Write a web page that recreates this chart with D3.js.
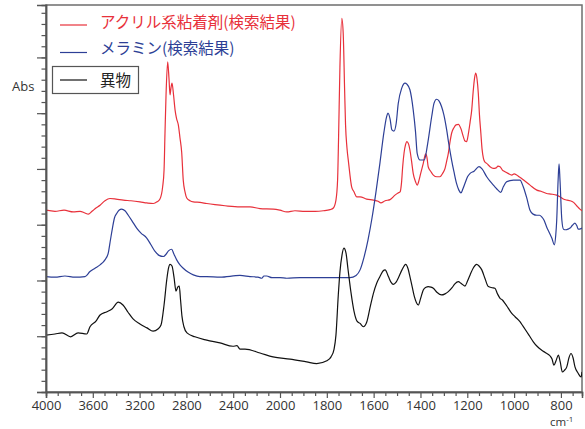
<!DOCTYPE html>
<html>
<head>
<meta charset="utf-8">
<script src="https://cdn.jsdelivr.net/npm/d3@7"></script>
<style>
  html, body { margin: 0; padding: 0; background: #fff; }
  svg { display: block; }
  .tick text { font-family: 'Open Sans', 'Noto Sans', sans-serif; font-size: 13px; fill: #333; }
  .legend text { font-family: 'Noto Sans CJK JP', sans-serif; font-size: 15.5px; }
</style>
</head>
<body>
<svg id="chart"></svg>
<script>
// wavenumber (cm-1), absorbance (offset stacked)
const foreign = [
  [4000, 0.102], [3923, 0.104], [3863, 0.106], [3789, 0.099], [3726, 0.106], [3652, 0.104],
  [3624, 0.117], [3573, 0.127], [3538, 0.138], [3479, 0.144], [3436, 0.149], [3382, 0.161],
  [3342, 0.156], [3299, 0.143], [3256, 0.131], [3197, 0.122], [3137, 0.115], [3085, 0.109],
  [3043, 0.113], [3017, 0.120], [2991, 0.156], [2968, 0.201], [2953, 0.222], [2940, 0.229],
  [2923, 0.226], [2906, 0.206], [2889, 0.181], [2874, 0.188], [2861, 0.190], [2850, 0.165],
  [2838, 0.136], [2821, 0.117], [2795, 0.106], [2727, 0.099], [2626, 0.093], [2513, 0.088],
  [2402, 0.082], [2368, 0.083], [2342, 0.077], [2299, 0.077], [2171, 0.070], [2060, 0.063],
  [1957, 0.059], [1886, 0.054], [1843, 0.051], [1800, 0.056], [1782, 0.063], [1769, 0.077],
  [1761, 0.102], [1751, 0.174], [1744, 0.215], [1735, 0.246], [1727, 0.258], [1718, 0.249],
  [1710, 0.222], [1697, 0.179], [1684, 0.145], [1671, 0.127], [1658, 0.123], [1644, 0.117],
  [1629, 0.126], [1615, 0.152], [1601, 0.177], [1587, 0.195], [1573, 0.207], [1560, 0.217],
  [1551, 0.219], [1537, 0.207], [1526, 0.197], [1516, 0.193], [1504, 0.197], [1495, 0.204],
  [1479, 0.219], [1463, 0.229], [1453, 0.221], [1445, 0.207], [1436, 0.190], [1426, 0.171],
  [1417, 0.160], [1409, 0.156], [1400, 0.167], [1388, 0.183], [1376, 0.188], [1367, 0.189],
  [1355, 0.188], [1345, 0.186], [1330, 0.179], [1310, 0.174], [1295, 0.176], [1281, 0.180],
  [1265, 0.187], [1253, 0.194], [1238, 0.198], [1227, 0.195], [1210, 0.190], [1199, 0.199],
  [1188, 0.210], [1175, 0.222], [1160, 0.229], [1150, 0.226], [1138, 0.219], [1124, 0.203],
  [1110, 0.189], [1094, 0.187], [1082, 0.186], [1071, 0.176], [1060, 0.168], [1050, 0.165],
  [1039, 0.159], [1026, 0.151], [1010, 0.141], [996, 0.135], [975, 0.126], [962, 0.118],
  [946, 0.108], [932, 0.099], [918, 0.090], [902, 0.082], [882, 0.075], [864, 0.070],
  [847, 0.065], [838, 0.059], [830, 0.048], [821, 0.056], [811, 0.066], [803, 0.054],
  [794, 0.036], [785, 0.039], [775, 0.045], [766, 0.061], [757, 0.069], [748, 0.061],
  [740, 0.045], [727, 0.034], [714, 0.027], [710, 0.036]
];

const melamine = [
  [4000, 0.207], [3923, 0.206], [3838, 0.208], [3752, 0.206], [3667, 0.207], [3624, 0.216],
  [3581, 0.222], [3538, 0.228], [3496, 0.237], [3468, 0.249], [3449, 0.273], [3432, 0.294],
  [3415, 0.312], [3396, 0.320], [3376, 0.326], [3353, 0.328], [3325, 0.325], [3297, 0.317],
  [3265, 0.307], [3225, 0.294], [3188, 0.285], [3139, 0.276], [3103, 0.264], [3068, 0.252],
  [3034, 0.245], [2997, 0.243], [2974, 0.247], [2953, 0.253], [2926, 0.256], [2906, 0.247],
  [2883, 0.237], [2855, 0.228], [2827, 0.222], [2786, 0.215], [2741, 0.210], [2684, 0.207],
  [2626, 0.207], [2513, 0.206], [2342, 0.209], [2256, 0.207], [2188, 0.206], [2156, 0.204],
  [2137, 0.208], [2114, 0.208], [2068, 0.205], [2000, 0.205], [1971, 0.204], [1915, 0.205],
  [1829, 0.205], [1744, 0.205], [1701, 0.205], [1675, 0.209], [1658, 0.219], [1641, 0.242],
  [1624, 0.273], [1607, 0.312], [1590, 0.359], [1573, 0.411], [1556, 0.466], [1545, 0.493],
  [1539, 0.500], [1530, 0.490], [1522, 0.470], [1513, 0.468], [1504, 0.481], [1495, 0.517],
  [1480, 0.545], [1466, 0.554], [1458, 0.552], [1445, 0.542], [1431, 0.506], [1421, 0.466],
  [1414, 0.428], [1402, 0.416], [1384, 0.416], [1369, 0.446], [1352, 0.494], [1342, 0.518],
  [1331, 0.525], [1321, 0.522], [1310, 0.512], [1300, 0.497], [1288, 0.470], [1279, 0.445],
  [1267, 0.416], [1257, 0.395], [1246, 0.374], [1236, 0.362], [1227, 0.357], [1219, 0.364],
  [1210, 0.374], [1199, 0.386], [1188, 0.392], [1171, 0.396], [1150, 0.404], [1137, 0.400],
  [1117, 0.386], [1103, 0.378], [1082, 0.368], [1069, 0.362], [1057, 0.358], [1046, 0.368],
  [1032, 0.377], [1018, 0.379], [1003, 0.380], [975, 0.380], [961, 0.368], [946, 0.348],
  [932, 0.326], [919, 0.319], [903, 0.317], [891, 0.317], [882, 0.314], [872, 0.308],
  [861, 0.296], [851, 0.287], [839, 0.276], [828, 0.264], [822, 0.282], [818, 0.308],
  [812, 0.380], [808, 0.409], [804, 0.380], [796, 0.308], [789, 0.292], [779, 0.291],
  [770, 0.292], [761, 0.294], [751, 0.299], [740, 0.303], [732, 0.298], [726, 0.292],
  [714, 0.293], [710, 0.294]
];

const acrylic = [
  [4000, 0.326], [3923, 0.324], [3846, 0.326], [3767, 0.323], [3709, 0.324], [3667, 0.321],
  [3638, 0.319], [3607, 0.324], [3573, 0.330], [3538, 0.335], [3496, 0.343], [3453, 0.347],
  [3402, 0.346], [3339, 0.344], [3274, 0.343], [3197, 0.341], [3137, 0.339], [3083, 0.338],
  [3051, 0.341], [3026, 0.346], [3003, 0.368], [2991, 0.398], [2983, 0.464], [2974, 0.533],
  [2960, 0.592], [2949, 0.563], [2940, 0.533], [2932, 0.545], [2923, 0.554], [2910, 0.533],
  [2897, 0.506], [2885, 0.491], [2869, 0.479], [2855, 0.456], [2840, 0.429], [2827, 0.380],
  [2812, 0.359], [2797, 0.348], [2769, 0.343], [2741, 0.341], [2684, 0.340], [2626, 0.338],
  [2556, 0.336], [2470, 0.334], [2342, 0.332], [2256, 0.332], [2171, 0.329], [2057, 0.328],
  [2000, 0.326], [1971, 0.323], [1936, 0.325], [1893, 0.324], [1850, 0.324], [1815, 0.325],
  [1786, 0.327], [1772, 0.330], [1761, 0.344], [1754, 0.380], [1750, 0.452], [1744, 0.583],
  [1736, 0.670], [1730, 0.643], [1724, 0.542], [1720, 0.479], [1714, 0.438], [1707, 0.411],
  [1694, 0.368], [1684, 0.359], [1672, 0.350], [1658, 0.350], [1630, 0.346], [1601, 0.344],
  [1581, 0.342], [1569, 0.339], [1551, 0.343], [1530, 0.345], [1509, 0.353], [1496, 0.357],
  [1487, 0.359], [1481, 0.375], [1476, 0.404], [1470, 0.429], [1464, 0.443], [1458, 0.449],
  [1451, 0.445], [1445, 0.434], [1438, 0.414], [1431, 0.392], [1421, 0.377], [1414, 0.371],
  [1406, 0.380], [1399, 0.392], [1388, 0.410], [1378, 0.427], [1372, 0.420], [1367, 0.404],
  [1355, 0.395], [1345, 0.389], [1330, 0.386], [1317, 0.386], [1304, 0.393], [1295, 0.401],
  [1288, 0.414], [1281, 0.428], [1274, 0.448], [1267, 0.464], [1257, 0.474], [1248, 0.479],
  [1238, 0.480], [1227, 0.472], [1217, 0.458], [1210, 0.450], [1203, 0.449], [1195, 0.464],
  [1188, 0.484], [1181, 0.506], [1175, 0.538], [1169, 0.563], [1164, 0.572], [1158, 0.560],
  [1153, 0.536], [1148, 0.497], [1142, 0.464], [1137, 0.436], [1131, 0.419], [1124, 0.412],
  [1117, 0.410], [1103, 0.404], [1089, 0.401], [1077, 0.402], [1069, 0.405], [1060, 0.404],
  [1050, 0.398], [1039, 0.395], [1026, 0.392], [1010, 0.389], [1000, 0.391], [989, 0.389],
  [979, 0.386], [968, 0.383], [953, 0.378], [932, 0.371], [903, 0.362], [885, 0.360],
  [861, 0.356], [843, 0.355], [818, 0.353], [804, 0.350], [790, 0.346], [774, 0.344],
  [761, 0.343], [746, 0.340], [733, 0.334], [719, 0.328], [710, 0.325]
];

const xMajorTicks = [4000, 3600, 3200, 2800, 2400, 2000, 1800, 1600, 1400, 1200, 1000, 800];
const seriesNames = ['アクリル系粘着剤(検索結果)', 'メラミン(検索結果)', '異物'];
const seriesColors = ['#e8313b', '#2d3f96', '#111111'];

const width = 585;
const height = 429;
const plot = { left: 46, right: 582, top: 5, bottom: 392 };

const svg = d3.select('#chart').attr('width', width).attr('height', height);

// x axis is split: 400 cm-1 per division above 2000, 200 below
const x = d3.scaleLinear()
  .domain([4000, 2000, 710])
  .range([plot.left, 280, plot.right]);

const y = d3.scaleLinear()
  .domain([0, 0.694])
  .range([plot.bottom, plot.top]);

const xMinorTicks = d3.range(4000, 2000, -100).concat(d3.range(2000, 705, -50))
  .filter((d) => xMajorTicks.indexOf(d) < 0);

svg.append('defs').append('clipPath').attr('id', 'clip')
  .append('rect')
  .attr('x', plot.left).attr('y', plot.top)
  .attr('width', plot.right - plot.left).attr('height', plot.bottom - plot.top);

// frame
svg.append('rect')
  .attr('x', plot.left).attr('y', plot.top)
  .attr('width', plot.right - plot.left).attr('height', plot.bottom - plot.top)
  .attr('fill', 'none').attr('stroke', '#6e6e6e').attr('stroke-width', 1.5);

const line = d3.line().x((d) => x(d[0])).y((d) => y(d[1])).curve(d3.curveMonotoneX);

const lines = svg.append('g').attr('clip-path', 'url(#clip)');
[acrylic, melamine, foreign].forEach((data, i) => {
  lines.append('path')
    .datum(data.slice().reverse())
    .attr('fill', 'none')
    .attr('stroke', seriesColors[i])
    .attr('stroke-width', 1.2)
    .attr('stroke-linejoin', 'round')
    .attr('d', line);
});

// axes
svg.append('g')
  .attr('transform', `translate(0,${plot.bottom})`)
  .call(d3.axisBottom(x).tickValues(xMajorTicks).tickSize(6).tickPadding(3).tickFormat(d3.format('d')));
svg.append('g')
  .attr('transform', `translate(0,${plot.bottom})`)
  .call(d3.axisBottom(x).tickValues(xMinorTicks).tickSize(4).tickFormat(''));

svg.append('g')
  .attr('transform', `translate(${plot.left},0)`)
  .call(d3.axisLeft(y).tickValues(d3.range(0, 0.65, 0.1)).tickSize(9).tickFormat(''));
svg.append('g')
  .attr('transform', `translate(${plot.left},0)`)
  .call(d3.axisLeft(y).tickValues(d3.range(0.02, 0.694, 0.02)).tickSize(4.5).tickFormat(''));

svg.selectAll('.domain').attr('stroke', '#555').attr('stroke-width', 1.5);
svg.selectAll('.tick line').attr('stroke', '#555').attr('stroke-width', 1.2);

svg.append('text')
  .attr('x', 12).attr('y', 91)
  .style('font-family', "'Open Sans', 'Noto Sans', sans-serif")
  .style('font-size', '13px').attr('fill', '#333')
  .text('Abs');

const unit = svg.append('text')
  .attr('x', 550).attr('y', 426)
  .style('font-family', "'Open Sans', 'Noto Sans', sans-serif")
  .style('font-size', '11.5px').attr('fill', '#333');
unit.append('tspan').text('cm');
unit.append('tspan').attr('dy', -4).style('font-size', '8px').text('-1');

// legend
const legend = svg.append('g').attr('class', 'legend');
legend.append('rect')
  .attr('x', 52.5).attr('y', 66.5).attr('width', 86).attr('height', 27)
  .attr('fill', '#fff').attr('stroke', '#555').attr('stroke-width', 1.2);

const legendRows = [
  { ly: 25, ty: 22 },
  { ly: 52.5, ty: 48 },
  { ly: 80, ty: 80 }
];
legendRows.forEach((r, i) => {
  legend.append('line')
    .attr('x1', 60).attr('x2', 87).attr('y1', r.ly).attr('y2', r.ly)
    .attr('stroke', seriesColors[i]).attr('stroke-width', 1.2);
  legend.append('text')
    .attr('x', 100).attr('y', r.ty).attr('dy', '0.36em')
    .attr('fill', i === 2 ? '#222' : seriesColors[i])
    .text(seriesNames[i]);
});
</script>
</body>
</html>
